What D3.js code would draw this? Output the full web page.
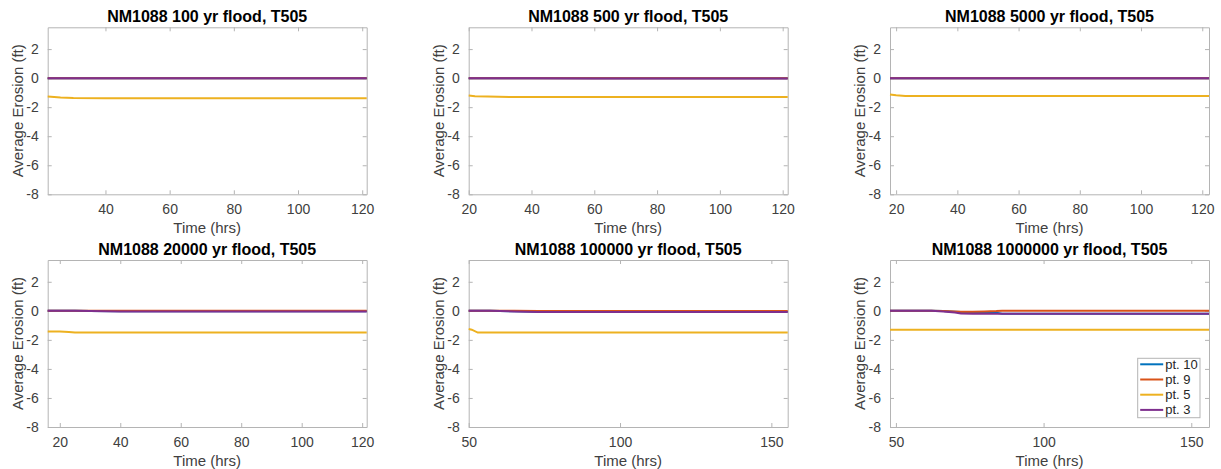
<!DOCTYPE html>
<html>
<head>
<meta charset="utf-8">
<script src="https://cdn.jsdelivr.net/npm/d3@7"></script>
<style>
  html, body { margin: 0; padding: 0; background: #fff; }
  svg { display: block; font-family: "Liberation Sans", Arial, sans-serif; }
</style>
</head>
<body>
<svg id="chart" width="1221" height="469"></svg>
<script>
"use strict";

// --- data ---
const panelTitles = [
  "NM1088 100 yr flood, T505",
  "NM1088 500 yr flood, T505",
  "NM1088 5000 yr flood, T505",
  "NM1088 20000 yr flood, T505",
  "NM1088 100000 yr flood, T505",
  "NM1088 1000000 yr flood, T505"
];
const seriesNames = ["pt. 10", "pt. 9", "pt. 5", "pt. 3"];
const seriesColors = ["#0072BD", "#D95319", "#EDB120", "#7E2F8E"];

const xDomains = [[22, 121.4], [20, 121.6], [18, 122.2], [16, 121.5], [50, 155.4], [48, 156]];
const xTickValues = [
  [40, 60, 80, 100, 120],
  [20, 40, 60, 80, 100, 120],
  [20, 40, 60, 80, 100, 120],
  [20, 40, 60, 80, 100, 120],
  [50, 100, 150],
  [50, 100, 150]
];
const yDomain = [-8, 3.5];
const yTickValues = [-8, -6, -4, -2, 0, 2];

// 100 yr
const t100 = [22, 26, 30, 40, 60, 80, 100, 121.4];
const pt10_100 = [0, 0, 0, 0, 0, 0, 0, 0];
const pt9_100 = [0, 0, 0, 0, 0, 0, 0, 0];
const pt5_100 = [-1.27, -1.33, -1.37, -1.38, -1.38, -1.38, -1.38, -1.38];
const pt3_100 = [0, 0, 0, 0, 0, 0, 0, 0];

// 500 yr
const t500 = [20, 22, 26, 33, 40, 60, 80, 100, 121.6];
const pt10_500 = [0, 0, 0, 0, 0, -0.01, -0.01, -0.01, -0.01];
const pt9_500 = [0, 0, 0, 0, 0, 0, 0, 0, 0];
const pt5_500 = [-1.2, -1.25, -1.27, -1.3, -1.3, -1.3, -1.3, -1.3, -1.3];
const pt3_500 = [0, 0, 0, 0, 0, -0.02, -0.02, -0.02, -0.02];

// 5000 yr
const t5000 = [18, 20, 23, 30, 40, 60, 80, 100, 122.2];
const pt10_5000 = [0, 0, 0, 0, -0.01, -0.01, -0.01, -0.01, -0.01];
const pt9_5000 = [0, 0, 0, 0, 0, 0, 0, 0, 0];
const pt5_5000 = [-1.12, -1.18, -1.23, -1.23, -1.23, -1.23, -1.23, -1.23, -1.23];
const pt3_5000 = [0, 0, 0, 0, -0.01, -0.01, -0.01, -0.01, -0.01];

// 20000 yr
const t20000 = [16, 20, 23, 25, 30, 40, 60, 80, 100, 121.5];
const pt10_20000 = [0, 0, 0, 0, -0.02, -0.03, -0.03, -0.03, -0.03, -0.03];
const pt9_20000 = [0, 0, 0, 0, 0, 0, 0, 0, 0, 0];
const pt5_20000 = [-1.42, -1.43, -1.45, -1.5, -1.5, -1.5, -1.5, -1.5, -1.5, -1.5];
const pt3_20000 = [0, 0, 0, 0, -0.02, -0.04, -0.04, -0.04, -0.04, -0.04];

// 100000 yr
const t100000 = [50, 51, 53, 57, 65, 73, 80, 100, 120, 140, 155.4];
const pt10_100000 = [0, 0, 0, 0, -0.03, -0.06, -0.07, -0.07, -0.07, -0.07, -0.07];
const pt9_100000 = [0, 0, 0, 0, 0, -0.01, -0.01, -0.01, -0.01, -0.01, -0.01];
const pt5_100000 = [-1.25, -1.3, -1.5, -1.5, -1.5, -1.5, -1.5, -1.5, -1.5, -1.5, -1.5];
const pt3_100000 = [0, 0, 0, 0, -0.04, -0.08, -0.08, -0.08, -0.08, -0.08, -0.08];

// 1000000 yr
const t1000000 = [48, 55, 62, 66, 70, 72, 76, 80, 84, 86, 100, 120, 140, 156];
const pt10_1000000 = [0, 0, 0, -0.02, -0.06, -0.08, -0.1, -0.12, -0.14, -0.2, -0.2, -0.2, -0.2, -0.2];
const pt9_1000000 = [0, 0, 0, -0.02, -0.05, -0.06, -0.06, -0.04, -0.02, 0, 0, 0, 0, 0];
const pt5_1000000 = [-1.3, -1.3, -1.3, -1.3, -1.3, -1.3, -1.3, -1.3, -1.3, -1.3, -1.3, -1.3, -1.3, -1.3];
const pt3_1000000 = [0, 0, 0, -0.05, -0.12, -0.18, -0.2, -0.2, -0.2, -0.2, -0.2, -0.2, -0.2, -0.2];

const panelTimes = [t100, t500, t5000, t20000, t100000, t1000000];
const panelSeries = [
  [pt10_100, pt9_100, pt5_100, pt3_100],
  [pt10_500, pt9_500, pt5_500, pt3_500],
  [pt10_5000, pt9_5000, pt5_5000, pt3_5000],
  [pt10_20000, pt9_20000, pt5_20000, pt3_20000],
  [pt10_100000, pt9_100000, pt5_100000, pt3_100000],
  [pt10_1000000, pt9_1000000, pt5_1000000, pt3_1000000]
];

// --- layout ---
const colLeft = [47.7, 468.7, 890];
const rowTop = [27.3, 260];
const axW = 319, axH = 167;
const axisGrey = "#b4b4b4", textGrey = "#404040";

const svg = d3.select("#chart");

panelTitles.forEach((title, i) => {
  let col = i % 3,
    row = Math.floor(i / 3),
    g = svg.append("g").attr("transform", `translate(${colLeft[col]},${rowTop[row]})`),
    x = d3.scaleLinear().domain(xDomains[i]).range([0, axW]),
    y = d3.scaleLinear().domain(yDomain).range([axH, 0]);

  // axes box with inward ticks on all four sides
  g.append("g").attr("transform", `translate(0,${axH})`)
    .call(d3.axisBottom(x).tickValues(xTickValues[i]).tickSizeInner(-4).tickSizeOuter(0).tickPadding(10));
  g.append("g")
    .call(d3.axisTop(x).tickValues(xTickValues[i]).tickSizeInner(-4).tickSizeOuter(0).tickFormat(""));
  g.append("g")
    .call(d3.axisLeft(y).tickValues(yTickValues).tickSizeInner(-4).tickSizeOuter(0).tickPadding(9)
      .tickFormat(d => d < 0 ? "-" + Math.abs(d) : d));
  g.append("g").attr("transform", `translate(${axW},0)`)
    .call(d3.axisRight(y).tickValues(yTickValues).tickSizeInner(-4).tickSizeOuter(0).tickFormat(""));
  g.selectAll(".tick line, .domain").attr("stroke", axisGrey);
  g.selectAll(".tick text").attr("font-size", 14).attr("fill", textGrey).attr("font-family", null);

  // series lines
  let times = panelTimes[i],
    line = d3.line().x((d, k) => x(times[k])).y(d => y(d));
  panelSeries[i].forEach((vals, s) => {
    g.append("path")
      .attr("d", line(vals))
      .attr("fill", "none")
      .attr("stroke", seriesColors[s])
      .attr("stroke-width", 2);
  });

  // title + axis labels
  g.append("text")
    .attr("x", axW / 2).attr("y", -5)
    .attr("text-anchor", "middle")
    .attr("font-size", 16).attr("font-weight", "bold").attr("fill", "#000")
    .text(title);
  g.append("text")
    .attr("x", axW / 2).attr("y", axH + 39)
    .attr("text-anchor", "middle")
    .attr("font-size", 15).attr("fill", textGrey)
    .text("Time (hrs)");
  g.append("text")
    .attr("transform", `translate(-25,${axH / 2}) rotate(-90)`)
    .attr("text-anchor", "middle")
    .attr("font-size", 15).attr("fill", textGrey)
    .text("Average Erosion (ft)");

  // legend, only in the last panel
  if (i === 5) {
    let lg = g.append("g").attr("transform", `translate(${1137.7 - colLeft[col]},${358.3 - rowTop[row]})`);
    lg.append("rect").attr("width", 62.3).attr("height", 59.4)
      .attr("fill", "#fff").attr("stroke", axisGrey);
    seriesNames.forEach((name, s) => {
      let yy = 6 + s * 15.2;
      lg.append("line").attr("x1", 2.5).attr("x2", 25.5).attr("y1", yy).attr("y2", yy)
        .attr("stroke", seriesColors[s]).attr("stroke-width", 2);
      lg.append("text").attr("x", 27.5).attr("y", yy).attr("dy", "0.35em")
        .attr("font-size", 13).attr("fill", "#262626").text(name);
    });
  }
});
</script>
</body>
</html>
